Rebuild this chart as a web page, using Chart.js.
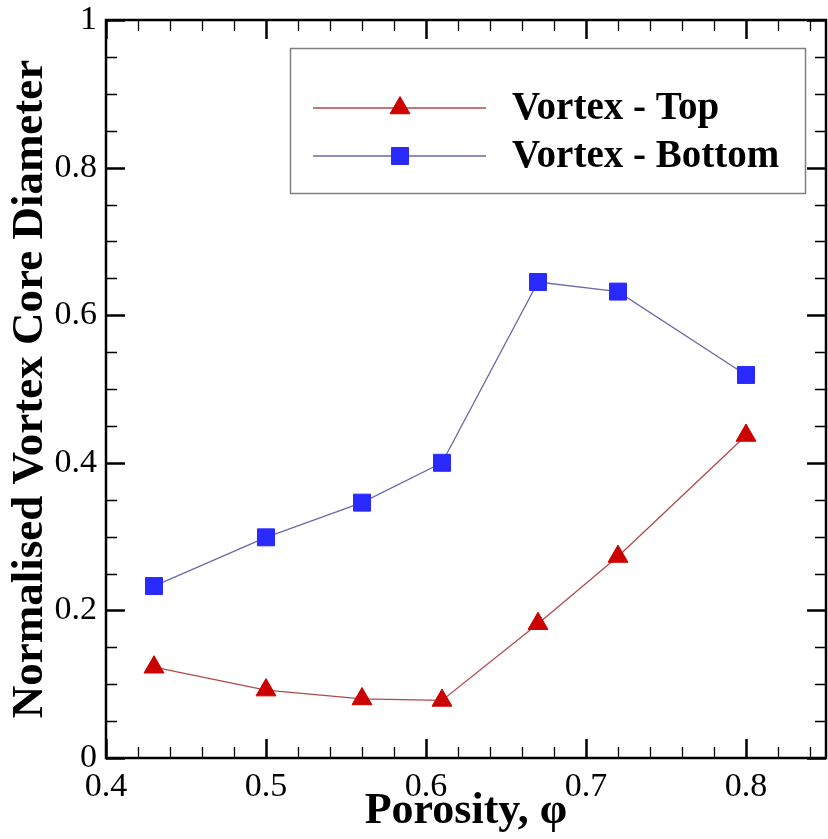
<!DOCTYPE html>
<html>
<head>
<meta charset="utf-8">
<script src="https://cdn.jsdelivr.net/npm/chart.js@4/dist/chart.umd.min.js"></script>
<style>
  html, body { margin: 0; padding: 0; background: #fff; }
  #wrap { width: 828px; height: 839px; }
</style>
</head>
<body>
<div id="wrap"><canvas id="c" width="828" height="839"></canvas></div>
<script>
// ---- data ----
const porosity = [0.43, 0.50, 0.56, 0.61, 0.67, 0.72, 0.80];
const vortexTop = [0.123, 0.092, 0.080, 0.078, 0.182, 0.273, 0.437];
const vortexBottom = [0.233, 0.299, 0.346, 0.400, 0.645, 0.632, 0.519];
const seriesNames = ['Vortex - Top', 'Vortex - Bottom'];
const xTitle = 'Porosity, \u03C6';
const yTitle = 'Normalised Vortex Core Diameter';

const serif = "'Liberation Serif', 'Times New Roman', serif";

function pts(xs, ys) { return xs.map((x, i) => ({ x: x, y: ys[i] })); }

const frameTicks = {
  id: 'frameTicks',
  afterDatasetsDraw(chart) {
    const { ctx, chartArea: a } = chart;
    const xs = chart.scales.x, ys = chart.scales.y;
    ctx.save();
    ctx.strokeStyle = '#000';
    ctx.lineCap = 'butt';
    for (let i = 20; i <= 42; i++) {
      const v = i / 50;
      const px = Math.round(xs.getPixelForValue(v)) + 0.5;
      const major = i % 5 === 0;
      const len = major ? 19 : 11;
      ctx.lineWidth = major ? 2.5 : 1.3;
      ctx.beginPath();
      ctx.moveTo(px, a.bottom); ctx.lineTo(px, a.bottom - len);
      ctx.moveTo(px, a.top); ctx.lineTo(px, a.top + len);
      ctx.stroke();
    }
    for (let i = 0; i <= 20; i++) {
      const v = i / 20;
      const py = Math.round(ys.getPixelForValue(v)) + 0.5;
      const major = i % 4 === 0;
      const len = major ? 19 : 11;
      ctx.lineWidth = major ? 2.5 : 1.3;
      ctx.beginPath();
      ctx.moveTo(a.left, py); ctx.lineTo(a.left + len, py);
      ctx.moveTo(a.right, py); ctx.lineTo(a.right - len, py);
      ctx.stroke();
    }
    ctx.lineWidth = 2.5;
    ctx.strokeRect(a.left, a.top, a.right - a.left, a.bottom - a.top);
    ctx.restore();
  }
};

const boxLegend = {
  id: 'boxLegend',
  afterDraw(chart) {
    const { ctx } = chart;
    ctx.save();
    ctx.strokeStyle = '#7f7f7f';
    ctx.lineWidth = 1.5;
    ctx.strokeRect(290.5, 48.5, 515, 145);
    const rows = [108, 156];
    chart.data.datasets.forEach((ds, i) => {
      const y = rows[i];
      ctx.strokeStyle = ds.borderColor;
      ctx.lineWidth = ds.borderWidth;
      ctx.beginPath();
      ctx.moveTo(313, y); ctx.lineTo(486, y);
      ctx.stroke();
      ctx.fillStyle = ds.pointBackgroundColor;
      ctx.strokeStyle = ds.pointBorderColor;
      ctx.lineWidth = 1;
      Chart.helpers.drawPoint(ctx, { pointStyle: ds.pointStyle, rotation: 0, radius: ds.pointRadius, borderWidth: 1 }, 400, y);
      ctx.fillStyle = '#000';
      ctx.font = 'bold 39px ' + serif;
      ctx.textBaseline = 'middle';
      ctx.textAlign = 'left';
      ctx.fillText(ds.label, 512, y + 1);
    });
    ctx.restore();
  }
};

new Chart(document.getElementById('c'), {
  type: 'line',
  data: {
    datasets: [
      {
        label: seriesNames[0],
        data: pts(porosity, vortexTop),
        borderColor: '#b04a4a',
        borderWidth: 1.3,
        pointStyle: 'triangle',
        pointRadius: 11.5,
        pointBackgroundColor: '#cc0000',
        pointBorderColor: '#cc0000',
        pointBorderWidth: 1,
        tension: 0
      },
      {
        label: seriesNames[1],
        data: pts(porosity, vortexBottom),
        borderColor: '#6a6aa8',
        borderWidth: 1.3,
        pointStyle: 'rect',
        pointRadius: 12,
        pointBackgroundColor: '#2a2aff',
        pointBorderColor: '#2a2aff',
        pointBorderWidth: 1,
        tension: 0
      }
    ]
  },
  options: {
    responsive: false,
    animation: false,
    devicePixelRatio: 1,
    layout: { autoPadding: false, padding: { top: 20, right: 2, left: 0, bottom: 0 } },
    plugins: { legend: { display: false }, tooltip: { enabled: false } },
    scales: {
      x: {
        type: 'linear',
        min: 0.4, max: 0.85,
        afterFit(s) { s.height = 81; s.paddingLeft = 0; s.paddingRight = 0; },
        grid: { display: false, drawTicks: false },
        border: { display: false },
        ticks: {
          stepSize: 0.1,
          includeBounds: false,
          maxRotation: 0,
          autoSkip: false,
          padding: 9,
          color: '#000',
          font: { family: serif, size: 34 },
          callback: v => (Math.round(v * 10) / 10).toFixed(1)
        },
        title: {
          display: true,
          text: xTitle,
          color: '#000',
          font: { family: serif, size: 44, weight: 'bold' },
          padding: { top: 0, bottom: 1 }
        }
      },
      y: {
        type: 'linear',
        min: 0, max: 1,
        afterFit(s) { s.width = 106; s.paddingTop = 0; s.paddingBottom = 0; },
        grid: { display: false, drawTicks: false },
        border: { display: false },
        ticks: {
          stepSize: 0.2,
          padding: 9,
          color: '#000',
          font: { family: serif, size: 34 },
          callback: v => {
            const r = Math.round(v * 10) / 10;
            if (r === 0) return '0';
            if (r === 1) return '1';
            return r.toFixed(1);
          }
        },
        title: {
          display: true,
          text: yTitle,
          color: '#000',
          font: { family: serif, size: 45, weight: 'bold' },
          padding: { top: 3, bottom: 0 }
        }
      }
    }
  },
  plugins: [frameTicks, boxLegend]
});
</script>
</body>
</html>
